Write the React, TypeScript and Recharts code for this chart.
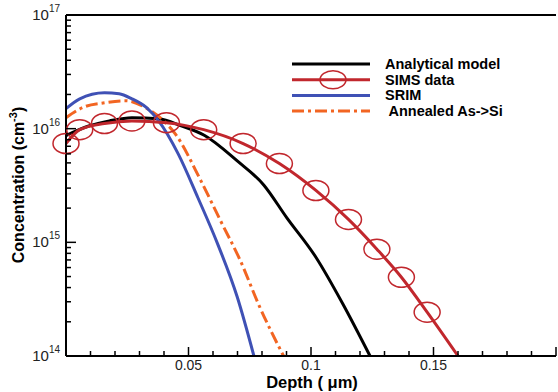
import React from "react";
import { LineChart, Line, XAxis, YAxis, ReferenceLine, Label } from "recharts";

// Depth in µm, concentration in cm^-3
const analyticalDepth = [0, 0.0096, 0.0177, 0.0269, 0.0378, 0.047, 0.0566, 0.0699, 0.0807, 0.09, 0.102, 0.1129, 0.1241];
const analyticalConc = [8.7e15, 1.06e16, 1.17e16, 1.25e16, 1.22e16, 1.06e16, 8.7e15, 5.2e15, 3.2e15, 1.66e15, 7.4e14, 2.9e14, 1e14];

const simsDepth = [0, 0.0056, 0.0157, 0.0269, 0.041, 0.0562, 0.0723, 0.0871, 0.102, 0.1153, 0.1269, 0.1369, 0.1474, 0.16];
const simsConc = [7.4e15, 9.8e15, 1.11e16, 1.17e16, 1.13e16, 9.8e15, 7.4e15, 4.93e15, 2.86e15, 1.59e15, 8.7e14, 4.93e14, 2.43e14, 1e14];

const srimDepth = [0, 0.0056, 0.0157, 0.0217, 0.0269, 0.0329, 0.0378, 0.0458, 0.0538, 0.0618, 0.0699, 0.0767];
const srimConc = [1.5e16, 1.83e16, 2.07e16, 2.03e16, 1.83e16, 1.53e16, 1.17e16, 6.0e15, 2.48e15, 9.8e14, 3.3e14, 1e14];

const annealedDepth = [0, 0.0076, 0.0157, 0.0245, 0.0325, 0.0406, 0.0446, 0.055, 0.063, 0.0711, 0.0791, 0.0888];
const annealedConc = [1.25e16, 1.56e16, 1.69e16, 1.76e16, 1.53e16, 1.13e16, 9.0e15, 3.5e15, 1.56e15, 6.95e14, 2.69e14, 1e14];

const xTicks = [0, 0.01, 0.02, 0.03, 0.04, 0.05, 0.06, 0.07, 0.08, 0.09, 0.1, 0.11, 0.12, 0.13, 0.14, 0.15, 0.16, 0.17, 0.18, 0.19, 0.2];
const xLabels: Record<string, string> = { "0.05": "0.05", "0.1": "0.1", "0.15": "0.15" };
const yDecades = [14, 15, 16, 17];
const yMinor = [2, 3, 4, 5, 6, 7, 8, 9];

const zip = (xs: number[], ys: number[]) => xs.map((x, i) => ({ x, c: ys[i] }));
const analyticalData = zip(analyticalDepth, analyticalConc);
const simsData = zip(simsDepth, simsConc);
const srimData = zip(srimDepth, srimConc);
const annealedData = zip(annealedDepth, annealedConc);

const yTicks: number[] = [];
yDecades.forEach((d, i) => {
  yTicks.push(Math.pow(10, d));
  if (i < yDecades.length - 1) yMinor.forEach((m) => yTicks.push(m * Math.pow(10, d)));
});

const RED = "#c1272d";
const BLUE = "#3f51b5";
const ORANGE = "#f26522";
const FONT = "Liberation Sans, Arial, sans-serif";

const XTick = (props: any) => {
  const { x, y, payload } = props;
  const v = Math.round(payload.value * 100);
  const major = v % 5 === 0;
  const label = xLabels[String(payload.value)];
  return (
    <g>
      <line x1={x} x2={x} y1={y} y2={y - (major ? 9 : 5)} stroke="#000" strokeWidth={1.5} />
      {label && (
        <text x={x} y={y + 14} textAnchor="middle" fontSize={14} fill="#222" fontFamily={FONT}>
          {label}
        </text>
      )}
    </g>
  );
};

const YTick = (props: any) => {
  const { x, y, payload } = props;
  const exp = Math.log10(payload.value);
  const major = Math.abs(exp - Math.round(exp)) < 1e-6;
  return (
    <g>
      <line x1={x} x2={x + (major ? 10 : 5)} y1={y} y2={y} stroke="#000" strokeWidth={1.5} />
      {major && (
        <text x={x - 6} y={y + 5} textAnchor="end" fontSize={15} fill="#222" fontFamily={FONT}>
          10
          <tspan fontSize={10} dy={-8}>{Math.round(exp)}</tspan>
        </text>
      )}
    </g>
  );
};

const SimsDot = (props: any) => {
  const { cx, cy, index } = props;
  if (index === simsData.length - 1) return <g key={`d-${index}`} />;
  return <ellipse key={`d-${index}`} cx={cx} cy={cy} rx={13} ry={10} fill="none" stroke={RED} strokeWidth={1.5} />;
};

const legendRows = [
  { name: "Analytical model", color: "#000" },
  { name: "SIMS data", color: RED, marker: true },
  { name: "SRIM", color: BLUE },
  { name: " Annealed As->Si", color: ORANGE, dash: "12 4 3 4" },
];

const LegendBox = () => (
  <svg width={250} height={70} style={{ position: "absolute", left: 290, top: 56 }}>
    {legendRows.map((r, i) => (
      <g key={r.name} transform={`translate(0, ${8 + i * 15.7})`}>
        <line x1={2} x2={80} y1={0} y2={0} stroke={r.color} strokeWidth={3} strokeDasharray={r.dash} />
        {r.marker && <ellipse cx={43} cy={0} rx={13} ry={9} fill="none" stroke={RED} strokeWidth={1.5} />}
        <text x={95} y={5} fontSize={14.5} fontWeight="bold" fontFamily={FONT} fill="#000" style={{ whiteSpace: "pre" }}>
          {r.name}
        </text>
      </g>
    ))}
  </svg>
);

export default function App() {
  return (
    <div style={{ position: "absolute", left: 0, top: 0, width: 558, height: 392, background: "#fff" }}>
      <LineChart width={558} height={392} margin={{ top: 15, right: 2, bottom: 0, left: 8 }}>
        <XAxis
          dataKey="x"
          type="number"
          domain={[0, 0.2]}
          ticks={xTicks}
          interval={0}
          tick={<XTick />}
          tickSize={0}
          tickMargin={0}
          tickLine={false}
          axisLine={{ stroke: "#000", strokeWidth: 2 }}
          height={36}
        >
          <Label
            content={() => (
              <text x={312} y={388} textAnchor="middle" fontSize={16.5} fontWeight="bold" fontFamily={FONT} fill="#000">
                Depth ( μm)
              </text>
            )}
          />
        </XAxis>
        <YAxis
          dataKey="c"
          scale="log"
          domain={[1e14, 1e17]}
          ticks={yTicks}
          interval={0}
          tick={<YTick />}
          tickSize={0}
          tickMargin={0}
          tickLine={false}
          axisLine={{ stroke: "#000", strokeWidth: 2 }}
          width={58}
        >
          <Label
            content={() => (
              <text
                x={24}
                y={185}
                transform="rotate(-90 24 185)"
                textAnchor="middle"
                fontSize={16}
                fontWeight="bold"
                fontFamily={FONT}
                fill="#000"
              >
                Concentration (cm
                <tspan fontSize={11} dy={-7}>-3</tspan>
                <tspan dy={7}>)</tspan>
              </text>
            )}
          />
        </YAxis>
        <ReferenceLine y={1e17} stroke="#000" strokeWidth={2} />
        <Line data={analyticalData} dataKey="c" name="Analytical model" type="monotone" stroke="#000" strokeWidth={3} dot={false} isAnimationActive={false} />
        <Line data={annealedData} dataKey="c" name="Annealed As->Si" type="monotone" stroke={ORANGE} strokeWidth={3} strokeDasharray="12 4 3 4" dot={false} isAnimationActive={false} />
        <Line data={srimData} dataKey="c" name="SRIM" type="monotone" stroke={BLUE} strokeWidth={3} dot={false} isAnimationActive={false} />
        <Line data={simsData} dataKey="c" name="SIMS data" type="monotone" stroke={RED} strokeWidth={3} dot={<SimsDot />} isAnimationActive={false} />
      </LineChart>
      <LegendBox />
    </div>
  );
}
